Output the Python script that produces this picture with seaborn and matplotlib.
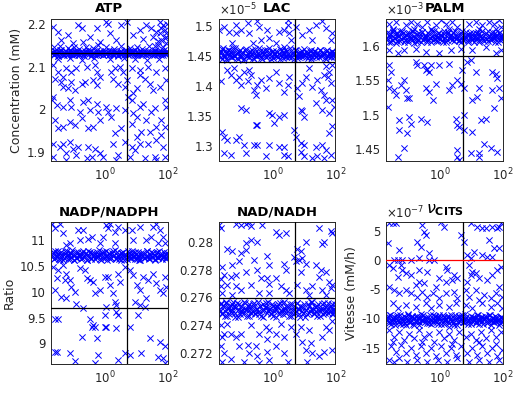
import numpy as np
import pandas as pd
import matplotlib
matplotlib.use("Agg")
import matplotlib.pyplot as plt
import seaborn as sns
from matplotlib.ticker import ScalarFormatter, FormatStrFormatter, LogLocator, NullFormatter, FixedLocator

sns.set_style("white")
plt.rcParams['font.family'] = ['DejaVu Sans']
plt.rcParams['axes.unicode_minus'] = False

# ---------------- data (x = log10 of sampled parameter) ----------------
band_logk = [-1.70, -1.65, -1.61, -1.58, -1.52, -1.49, -1.43, -1.41, -1.36, -1.30,
             -1.27, -1.21, -1.18, -1.12, -1.09, -1.03, -0.99, -0.96, -0.90, -0.85,
             -0.82, -0.76, -0.73, -0.67, -0.64, -0.58, -0.55, -0.49, -0.44, -0.41,
             -0.35, -0.31, -0.26, -0.22, -0.17, -0.13, -0.08, -0.05, 0.01, 0.04,
             0.10, 0.14, 0.17, 0.23, 0.26, 0.32, 0.35, 0.41, 0.44, 0.50,
             0.53, 0.59, 0.62, 0.68, 0.71, 0.77, 0.80, 0.86, 0.89, 0.95,
             0.98, 1.04, 1.07, 1.13, 1.16, 1.22, 1.25, 1.31, 1.34, 1.40,
             1.43, 1.49, 1.52, 1.58, 1.61, 1.67, 1.70, 1.76, 1.79, 1.85,
             1.88, 1.93, 1.96, 1.99]
band_logk2 = [-1.68, -1.63, -1.59, -1.55, -1.50, -1.46, -1.42, -1.38, -1.33, -1.28,
              -1.24, -1.19, -1.15, -1.10, -1.06, -1.01, -0.97, -0.93, -0.88, -0.83,
              -0.79, -0.74, -0.70, -0.66, -0.61, -0.57, -0.52, -0.47, -0.43, -0.38,
              -0.33, -0.29, -0.24, -0.20, -0.15, -0.11, -0.06, -0.02, 0.03, 0.07,
              0.12, 0.16, 0.20, 0.25, 0.29, 0.34, 0.38, 0.43, 0.47, 0.52,
              0.56, 0.61, 0.65, 0.70, 0.74, 0.79, 0.83, 0.88, 0.92, 0.97,
              1.01, 1.06, 1.10, 1.15, 1.19, 1.24, 1.28, 1.33, 1.37, 1.42,
              1.46, 1.51, 1.55, 1.60, 1.64, 1.69, 1.73, 1.78, 1.82, 1.87,
              1.90, 1.94, 1.97, 1.98]

atp_band = [2.131, 2.135, 2.128, 2.137, 2.133, 2.126, 2.134, 2.139, 2.130, 2.127,
            2.136, 2.132, 2.129, 2.138, 2.134, 2.127, 2.131, 2.136, 2.130, 2.133,
            2.128, 2.135, 2.132, 2.126, 2.137, 2.131, 2.134, 2.129, 2.136, 2.130,
            2.133, 2.127, 2.138, 2.131, 2.129, 2.135, 2.132, 2.128, 2.136, 2.130,
            2.134, 2.127, 2.133, 2.137, 2.129, 2.132, 2.135, 2.128, 2.131, 2.136,
            2.130, 2.133, 2.127, 2.138, 2.131, 2.134, 2.129, 2.136, 2.132, 2.128,
            2.135, 2.130, 2.133, 2.137, 2.129, 2.131, 2.136, 2.128, 2.134, 2.130,
            2.133, 2.127, 2.135, 2.131, 2.138, 2.129, 2.134, 2.132, 2.136, 2.128,
            2.133, 2.130, 2.135, 2.131]
atp_band2 = [2.134, 2.129, 2.137, 2.131, 2.126, 2.135, 2.130, 2.138, 2.128, 2.133,
             2.136, 2.127, 2.132, 2.139, 2.130, 2.134, 2.128, 2.131, 2.137, 2.129,
             2.133, 2.136, 2.127, 2.131, 2.135, 2.129, 2.138, 2.132, 2.126, 2.134,
             2.130, 2.136, 2.128, 2.133, 2.137, 2.131, 2.127, 2.135, 2.129, 2.132,
             2.138, 2.130, 2.134, 2.128, 2.136, 2.131, 2.133, 2.126, 2.135, 2.129,
             2.132, 2.137, 2.130, 2.134, 2.127, 2.136, 2.131, 2.133, 2.129, 2.138,
             2.128, 2.135, 2.131, 2.134, 2.127, 2.136, 2.130, 2.132, 2.137, 2.129,
             2.134, 2.131, 2.128, 2.136, 2.133, 2.130, 2.135, 2.127, 2.132, 2.138,
             2.129, 2.134, 2.131, 2.136]
atp_pts = [(-0.85, 2.198), (-0.74, 2.19), (-0.26, 2.19), (0.05, 2.205), (0.1, 2.2), (0.53, 2.198), (0.69, 2.205),
           (1.32, 2.198), (1.48, 2.19), (1.75, 2.205), (1.85, 2.198), (1.9, 2.186), (1.75, 2.178), (1.64, 2.182),
           (-1.48, 2.182), (-1.16, 2.174), (-1.64, 2.194), (-0.48, 2.17), (0.16, 2.178), (0.9, 2.174), (1.22, 2.166),
           (-1.38, 2.162), (-0.69, 2.158), (0.37, 2.162), (1.11, 2.186), (1.8, 2.162), (1.96, 2.17), (1.53, 2.17),
           (-1.0, 2.155), (-0.16, 2.158), (1.7, 2.15), (1.86, 2.145), (1.95, 2.155), (1.6, 2.148), (1.91, 2.168),
           (1.78, 2.19), (1.98, 2.2), (1.68, 2.16), (1.93, 2.178),
           (-1.62, 2.145), (-1.41, 2.148), (-1.17, 2.143), (-0.97, 2.146), (-0.83, 2.142), (-0.61, 2.147),
           (-0.38, 2.144), (-0.21, 2.15), (0.03, 2.145), (0.28, 2.142), (0.52, 2.148), (0.81, 2.144), (1.02, 2.146),
           (1.19, 2.142), (1.42, 2.148), (-1.5, 2.118), (-1.12, 2.12), (-0.71, 2.116), (-0.33, 2.121), (0.18, 2.117),
           (0.62, 2.12), (0.97, 2.118), (1.33, 2.115), (1.72, 2.119),
           (-1.64, 2.104), (-1.48, 2.088), (-1.22, 2.096), (-1.06, 2.088), (-0.9, 2.096), (-0.58, 2.1), (-0.32, 2.104),
           (-0.26, 2.088), (0.21, 2.088), (0.32, 2.096), (0.48, 2.1), (0.58, 2.088), (0.85, 2.096), (1.11, 2.092),
           (1.38, 2.1), (1.64, 2.088), (1.9, 2.096), (-1.59, 2.072), (-1.38, 2.064), (-1.32, 2.076), (-1.06, 2.064),
           (-0.95, 2.045), (-0.74, 2.06), (-0.63, 2.064), (-0.37, 2.068), (-0.26, 2.056), (-0.16, 2.076), (0.26, 2.072),
           (0.42, 2.06), (0.63, 2.053), (0.69, 2.068), (0.9, 2.037), (1.01, 2.049), (1.11, 2.08), (1.27, 2.072),
           (1.43, 2.06), (1.53, 2.045), (1.75, 2.053), (1.96, 2.068), (-1.16, 2.049), (-1.32, 2.053), (-1.64, 2.029),
           (-1.69, 2.021), (-1.53, 2.009), (-1.32, 2.005), (-1.11, 2.021), (-1.06, 2.005), (-0.79, 1.994), (-0.69, 2.017),
           (-0.53, 2.021), (-0.48, 1.998), (-0.26, 2.013), (-0.21, 1.994), (0.05, 2.005), (0.1, 1.994), (0.37, 2.002),
           (0.63, 1.998), (0.74, 2.029), (0.85, 2.021), (0.9, 1.99), (1.01, 1.982), (1.11, 2.005), (1.22, 2.013),
           (1.32, 1.974), (1.48, 1.994), (1.59, 2.002), (1.64, 1.958), (1.8, 1.974), (1.96, 2.005), (1.9, 2.021),
           (-1.59, 1.974), (-1.48, 1.955), (-1.32, 1.958), (-1.11, 1.97), (-0.95, 1.962), (-0.74, 1.978), (-0.53, 1.955),
           (-0.37, 1.958), (-0.16, 1.974), (0.21, 1.982), (0.32, 1.943), (0.53, 1.955), (0.85, 1.966), (1.01, 1.935),
           (1.16, 1.947), (1.43, 1.947), (1.64, 1.927), (1.8, 1.939), (1.9, 1.958), (-1.64, 1.919), (-1.43, 1.911),
           (-1.32, 1.919), (-1.22, 1.896), (-1.11, 1.923), (-1.0, 1.907), (-0.85, 1.911), (-0.53, 1.911), (-0.32, 1.907),
           (-0.16, 1.896), (0.26, 1.919), (0.42, 1.892), (0.63, 1.923), (0.85, 1.911), (0.95, 1.904), (1.11, 1.919),
           (1.38, 1.919), (1.59, 1.888), (1.85, 1.911), (-1.64, 1.888), (-1.22, 1.88), (-0.9, 1.892), (-0.58, 1.884),
           (-0.42, 1.888), (-0.05, 1.888), (0.37, 1.88), (0.79, 1.888), (1.27, 1.884), (1.64, 1.88), (1.9, 1.888)]

lac_band = [1.451, 1.458, 1.445, 1.462, 1.449, 1.455, 1.443, 1.460, 1.452, 1.447,
            1.457, 1.450, 1.463, 1.446, 1.454, 1.459, 1.448, 1.453, 1.444, 1.461,
            1.450, 1.456, 1.447, 1.452, 1.459, 1.445, 1.454, 1.449, 1.462, 1.451,
            1.446, 1.457, 1.453, 1.448, 1.460, 1.450, 1.455, 1.444, 1.458, 1.452,
            1.449, 1.456, 1.447, 1.461, 1.451, 1.454, 1.446, 1.459, 1.450, 1.453,
            1.448, 1.457, 1.452, 1.445, 1.460, 1.450, 1.455, 1.447, 1.453, 1.458,
            1.449, 1.451, 1.456, 1.446, 1.454, 1.460, 1.448, 1.452, 1.457, 1.450,
            1.455, 1.447, 1.459, 1.451, 1.453, 1.446, 1.458, 1.450, 1.454, 1.449,
            1.456, 1.452, 1.448, 1.455]
lac_band2 = [1.455, 1.448, 1.461, 1.450, 1.457, 1.444, 1.453, 1.459, 1.447, 1.452,
             1.462, 1.449, 1.454, 1.445, 1.458, 1.451, 1.456, 1.443, 1.460, 1.450,
             1.453, 1.447, 1.458, 1.452, 1.446, 1.461, 1.449, 1.455, 1.451, 1.457,
             1.444, 1.453, 1.459, 1.448, 1.454, 1.462, 1.450, 1.456, 1.446, 1.452,
             1.458, 1.449, 1.453, 1.445, 1.460, 1.451, 1.455, 1.448, 1.457, 1.450,
             1.463, 1.447, 1.454, 1.452, 1.459, 1.446, 1.451, 1.456, 1.449, 1.453,
             1.461, 1.448, 1.455, 1.450, 1.457, 1.444, 1.452, 1.458, 1.447, 1.454,
             1.451, 1.460, 1.449, 1.456, 1.453, 1.445, 1.459, 1.450, 1.455, 1.448,
             1.457, 1.451, 1.454, 1.452]
lac_pts = [(-1.69, 1.493), (-1.53, 1.498), (-1.38, 1.49), (-1.16, 1.501), (-1.16, 1.487), (-1.01, 1.493), (-0.79, 1.504),
           (-0.74, 1.487), (-0.48, 1.507), (-0.42, 1.498), (-0.37, 1.476), (-0.16, 1.493), (-0.11, 1.479), (0.21, 1.49),
           (0.37, 1.493), (0.48, 1.509), (0.48, 1.501), (0.53, 1.487), (0.58, 1.476), (0.74, 1.498), (0.95, 1.484),
           (1.16, 1.493), (1.38, 1.501), (1.59, 1.507), (1.69, 1.496), (1.9, 1.487), (1.85, 1.476), (1.27, 1.476),
           (-0.63, 1.471), (0.11, 1.471), (-1.27, 1.471), (0.37, 1.465),
           (-1.64, 1.407), (-1.43, 1.426), (-1.32, 1.418), (-1.22, 1.429), (-1.16, 1.409), (-1.06, 1.415), (-1.01, 1.401),
           (-0.9, 1.423), (-0.79, 1.407), (-0.74, 1.426), (-0.69, 1.418), (-0.58, 1.393), (-0.53, 1.384), (-0.48, 1.401),
           (-0.37, 1.409), (-0.21, 1.396), (-0.11, 1.412), (0.11, 1.423), (0.21, 1.404), (0.37, 1.39), (0.48, 1.401),
           (0.53, 1.415), (0.79, 1.396), (0.85, 1.382), (0.95, 1.404), (1.06, 1.415), (1.16, 1.429), (1.27, 1.398),
           (1.43, 1.409), (1.53, 1.393), (1.64, 1.384), (1.75, 1.415), (1.85, 1.404), (1.9, 1.376), (1.96, 1.365),
           (1.8, 1.354), (1.69, 1.376), (1.59, 1.359), (1.38, 1.371), (0.95, 1.357), (1.01, 1.348), (0.9, 1.359),
           (0.37, 1.351), (0.21, 1.348), (0.0, 1.351), (-0.11, 1.354), (0.05, 1.337), (-0.85, 1.359), (-1.01, 1.362),
           (-0.53, 1.334), (-0.48, 1.334), (-1.59, 1.323), (-1.53, 1.315), (-1.43, 1.309), (-1.16, 1.309), (-1.06, 1.315),
           (-0.9, 1.301), (-0.58, 1.301), (-0.48, 1.301), (-0.11, 1.301), (0.21, 1.298), (0.37, 1.298), (0.74, 1.315),
           (0.9, 1.304), (1.01, 1.301), (1.38, 1.298), (1.59, 1.301), (1.8, 1.321), (1.9, 1.332), (-1.53, 1.287),
           (-1.32, 1.284), (-0.85, 1.287), (-0.21, 1.282), (0.37, 1.284), (0.48, 1.282), (0.69, 1.326), (1.01, 1.282),
           (1.27, 1.279), (1.43, 1.282), (1.64, 1.279), (1.85, 1.284), (1.69, 1.293), (0.9, 1.29),
           (1.69, 1.432), (1.8, 1.423), (1.64, 1.418), (1.9, 1.434)]

palm_band = [1.612, 1.620, 1.606, 1.617, 1.609, 1.623, 1.611, 1.604, 1.618, 1.614,
             1.607, 1.621, 1.613, 1.609, 1.616, 1.605, 1.619, 1.612, 1.608, 1.622,
             1.615, 1.610, 1.606, 1.618, 1.613, 1.620, 1.608, 1.614, 1.611, 1.605,
             1.617, 1.612, 1.621, 1.609, 1.615, 1.607, 1.619, 1.613, 1.610, 1.616,
             1.606, 1.622, 1.612, 1.608, 1.618, 1.614, 1.611, 1.620, 1.607, 1.615,
             1.613, 1.609, 1.617, 1.605, 1.621, 1.612, 1.610, 1.616, 1.608, 1.619,
             1.614, 1.611, 1.606, 1.618, 1.613, 1.620, 1.609, 1.615, 1.612, 1.607,
             1.617, 1.610, 1.622, 1.614, 1.608, 1.616, 1.611, 1.619, 1.613, 1.606,
             1.618, 1.612, 1.615, 1.610]
palm_band2 = [1.609, 1.616, 1.613, 1.605, 1.620, 1.611, 1.617, 1.607, 1.614, 1.622,
              1.610, 1.618, 1.606, 1.613, 1.619, 1.608, 1.615, 1.611, 1.621, 1.604,
              1.612, 1.617, 1.609, 1.614, 1.606, 1.620, 1.612, 1.616, 1.608, 1.618,
              1.611, 1.605, 1.615, 1.621, 1.610, 1.613, 1.607, 1.619, 1.614, 1.609,
              1.617, 1.612, 1.606, 1.620, 1.611, 1.616, 1.608, 1.613, 1.622, 1.610,
              1.615, 1.607, 1.618, 1.612, 1.609, 1.614, 1.620, 1.606, 1.616, 1.611,
              1.608, 1.619, 1.613, 1.610, 1.617, 1.605, 1.615, 1.621, 1.609, 1.612,
              1.618, 1.607, 1.614, 1.610, 1.620, 1.613, 1.606, 1.616, 1.611, 1.619,
              1.608, 1.614, 1.612, 1.617]
palm_pts = [(-1.62, 1.632), (-1.41, 1.635), (-1.09, 1.63), (-0.93, 1.635), (-0.72, 1.632), (-0.56, 1.628), (-0.4, 1.635),
            (-0.14, 1.63), (0.02, 1.637), (0.18, 1.632), (0.39, 1.635), (0.55, 1.628), (0.92, 1.632), (1.13, 1.635),
            (1.34, 1.63), (1.56, 1.635), (1.71, 1.632), (1.87, 1.637), (1.93, 1.628), (-1.51, 1.625), (-0.83, 1.625),
            (-0.3, 1.625), (0.29, 1.625), (1.24, 1.625), (1.77, 1.625),
            (-1.62, 1.594), (-1.35, 1.589), (-1.14, 1.594), (-0.77, 1.596), (-0.46, 1.591), (-0.03, 1.589), (0.34, 1.594),
            (0.66, 1.596), (1.03, 1.594), (1.45, 1.599), (1.77, 1.589), (1.93, 1.594),
            (-1.62, 1.572), (-1.57, 1.562), (-1.64, 1.55), (-1.62, 1.538), (-1.46, 1.536), (-1.41, 1.528), (-1.25, 1.543),
            (-1.14, 1.55), (-1.09, 1.536), (-1.04, 1.524), (-0.98, 1.524), (-0.77, 1.577), (-0.72, 1.572), (-0.51, 1.572),
            (-0.46, 1.565), (-0.4, 1.567), (-0.35, 1.562), (-0.3, 1.572), (-0.46, 1.538), (-0.35, 1.533), (-0.24, 1.521),
            (-0.14, 1.545), (-0.03, 1.572), (0.29, 1.574), (0.29, 1.536), (0.39, 1.543), (0.55, 1.55), (0.71, 1.565),
            (0.66, 1.545), (0.76, 1.538), (0.87, 1.577), (0.97, 1.579), (1.13, 1.562), (1.03, 1.521), (1.18, 1.526),
            (1.24, 1.538), (1.66, 1.562), (1.77, 1.559), (1.82, 1.553), (1.87, 1.538), (1.93, 1.524), (1.66, 1.536),
            (1.71, 1.509), (-1.67, 1.511), (-1.3, 1.492), (-1.3, 1.478), (-1.04, 1.473), (-0.98, 1.497), (-0.93, 1.487),
            (-0.61, 1.494), (-0.4, 1.489), (0.5, 1.494), (0.55, 1.485), (0.6, 1.482), (0.76, 1.499), (0.76, 1.478),
            (1.03, 1.475), (1.29, 1.492), (1.45, 1.494), (-1.35, 1.439), (-1.14, 1.451), (0.55, 1.448), (0.55, 1.439),
            (0.6, 1.434), (0.97, 1.444), (1.24, 1.444), (1.4, 1.458), (1.61, 1.451), (1.82, 1.446), (1.24, 1.439)]

nadp_band = [10.70, 10.76, 10.63, 10.79, 10.67, 10.73, 10.61, 10.75, 10.69, 10.65,
             10.78, 10.71, 10.64, 10.74, 10.68, 10.80, 10.62, 10.72, 10.66, 10.77,
             10.70, 10.63, 10.75, 10.68, 10.73, 10.61, 10.79, 10.69, 10.66, 10.74,
             10.71, 10.64, 10.77, 10.67, 10.72, 10.62, 10.76, 10.70, 10.65, 10.78,
             10.68, 10.73, 10.63, 10.75, 10.69, 10.80, 10.66, 10.71, 10.64, 10.74,
             10.70, 10.77, 10.62, 10.72, 10.67, 10.75, 10.65, 10.79, 10.69, 10.63,
             10.73, 10.68, 10.76, 10.61, 10.71, 10.74, 10.66, 10.70, 10.78, 10.64,
             10.72, 10.67, 10.75, 10.62, 10.69, 10.77, 10.65, 10.73, 10.70, 10.68,
             10.76, 10.63, 10.71, 10.74]
nadp_band2 = [10.68, 10.74, 10.65, 10.72, 10.78, 10.63, 10.70, 10.76, 10.62, 10.73,
              10.67, 10.79, 10.69, 10.64, 10.75, 10.71, 10.61, 10.77, 10.66, 10.73,
              10.70, 10.65, 10.78, 10.68, 10.74, 10.62, 10.72, 10.76, 10.64, 10.69,
              10.75, 10.67, 10.71, 10.80, 10.63, 10.73, 10.66, 10.77, 10.70, 10.62,
              10.74, 10.68, 10.65, 10.79, 10.71, 10.64, 10.76, 10.69, 10.72, 10.61,
              10.75, 10.67, 10.73, 10.63, 10.78, 10.70, 10.66, 10.74, 10.68, 10.77,
              10.64, 10.71, 10.62, 10.75, 10.69, 10.73, 10.66, 10.79, 10.70, 10.65,
              10.76, 10.68, 10.72, 10.63, 10.74, 10.67, 10.78, 10.71, 10.64, 10.70,
              10.73, 10.66, 10.75, 10.69]
nadp_pts = [(-1.69, 11.32), (-1.43, 11.32), (-1.59, 11.23), (-1.32, 11.13), (-1.11, 10.94), (-0.85, 11.19), (-0.69, 11.19),
            (-0.53, 11.03), (-0.42, 11.06), (-0.16, 10.94), (-0.05, 11.06), (0.05, 11.29), (0.11, 11.23), (0.16, 11.32),
            (0.32, 11.16), (0.32, 10.94), (0.42, 11.26), (0.63, 11.19), (0.85, 11.19), (0.9, 11.0), (1.11, 11.26),
            (1.32, 11.0), (1.53, 11.26), (1.64, 11.32), (1.75, 11.19), (1.85, 11.06), (1.9, 10.94), (1.69, 10.94),
            (1.48, 11.06), (-0.79, 11.0), (-1.22, 10.9),
            (-1.64, 10.48), (-1.48, 10.42), (-1.32, 10.52), (-1.22, 10.35), (-1.11, 10.23), (-1.27, 10.23), (-1.53, 10.26),
            (-1.59, 10.03), (-1.38, 9.9), (-1.22, 9.87), (-1.06, 10.1), (-0.95, 10.0), (-0.79, 10.45), (-0.63, 10.42),
            (-0.58, 10.26), (-0.48, 10.23), (-0.37, 10.19), (-0.32, 9.97), (-0.16, 10.03), (0.0, 10.29), (0.11, 10.29),
            (0.16, 10.13), (0.26, 9.97), (0.32, 9.81), (0.42, 10.35), (0.48, 10.19), (0.63, 10.48), (0.79, 10.42),
            (0.9, 10.32), (1.01, 10.13), (0.95, 9.81), (1.11, 10.03), (1.22, 10.29), (1.38, 10.23), (1.32, 9.87),
            (1.53, 10.35), (1.64, 10.16), (1.75, 10.03), (1.85, 9.97), (1.96, 10.1), (1.9, 10.29), (-0.9, 9.77),
            (-0.69, 9.68), (0.05, 9.71), (0.37, 9.74), (1.11, 9.74), (1.27, 9.71),
            (-1.59, 9.48), (-1.48, 9.48), (-0.74, 9.13), (-0.48, 9.48), (-0.42, 9.32), (-0.37, 9.35), (-0.32, 9.32),
            (-0.26, 9.1), (0.0, 9.32), (0.05, 9.32), (0.0, 9.55), (0.37, 9.29), (0.37, 9.61), (0.42, 9.55), (0.79, 9.32),
            (1.06, 9.55), (1.43, 9.1), (1.75, 9.03), (1.9, 8.94), (-1.59, 8.84), (-1.53, 8.84), (-1.11, 8.81),
            (-0.95, 8.65), (-0.32, 8.61), (-0.21, 8.77), (0.42, 8.68), (0.63, 8.81), (0.79, 8.77), (1.16, 8.81),
            (1.69, 8.74), (1.85, 8.71), (1.9, 8.61)]

nad_band = [0.2752, 0.2756, 0.2748, 0.2754, 0.2750, 0.2757, 0.2747, 0.2753, 0.2751, 0.2755,
            0.2749, 0.2753, 0.2746, 0.2756, 0.2751, 0.2748, 0.2754, 0.2750, 0.2757, 0.2752,
            0.2747, 0.2755, 0.2751, 0.2749, 0.2753, 0.2756, 0.2748, 0.2752, 0.2750, 0.2754,
            0.2747, 0.2755, 0.2751, 0.2753, 0.2749, 0.2757, 0.2752, 0.2748, 0.2754, 0.2750,
            0.2746, 0.2753, 0.2755, 0.2749, 0.2751, 0.2756, 0.2748, 0.2752, 0.2754, 0.2750,
            0.2753, 0.2747, 0.2755, 0.2751, 0.2749, 0.2756, 0.2752, 0.2748, 0.2754, 0.2750,
            0.2753, 0.2746, 0.2751, 0.2755, 0.2749, 0.2752, 0.2757, 0.2748, 0.2753, 0.2750,
            0.2754, 0.2751, 0.2747, 0.2755, 0.2752, 0.2749, 0.2753, 0.2756, 0.2750, 0.2754,
            0.2748, 0.2752, 0.2751, 0.2755]
nad_band2 = [0.2750, 0.2755, 0.2749, 0.2753, 0.2747, 0.2756, 0.2752, 0.2748, 0.2754, 0.2751,
             0.2757, 0.2749, 0.2753, 0.2746, 0.2755, 0.2750, 0.2752, 0.2748, 0.2756, 0.2751,
             0.2754, 0.2747, 0.2753, 0.2750, 0.2755, 0.2749, 0.2752, 0.2757, 0.2748, 0.2754,
             0.2751, 0.2746, 0.2753, 0.2756, 0.2750, 0.2752, 0.2749, 0.2755, 0.2747, 0.2753,
             0.2751, 0.2754, 0.2748, 0.2756, 0.2750, 0.2752, 0.2757, 0.2749, 0.2753, 0.2747,
             0.2755, 0.2751, 0.2748, 0.2754, 0.2750, 0.2756, 0.2752, 0.2746, 0.2753, 0.2749,
             0.2755, 0.2751, 0.2748, 0.2754, 0.2750, 0.2757, 0.2752, 0.2749, 0.2753, 0.2747,
             0.2755, 0.2750, 0.2752, 0.2748, 0.2756, 0.2751, 0.2754, 0.2749, 0.2753, 0.2750,
             0.2755, 0.2748, 0.2752, 0.2751]
nad_pts = [(-1.69, 0.2812), (-1.64, 0.2810), (-1.16, 0.2813), (-1.01, 0.2812), (-0.85, 0.2813), (-0.74, 0.2814),
           (-0.69, 0.2811), (-0.32, 0.2812), (0.11, 0.2807), (0.21, 0.2805), (0.42, 0.2806), (1.48, 0.2810),
           (1.85, 0.2808), (1.9, 0.2806), (1.64, 0.2800), (1.59, 0.2798), (1.06, 0.2800), (0.79, 0.2795), (0.9, 0.2793),
           (-0.48, 0.2800), (-0.85, 0.2799), (-0.69, 0.2801), (-1.43, 0.2795), (-1.27, 0.2793), (-1.01, 0.2792),
           (-0.85, 0.2794), (-1.06, 0.2786), (-1.27, 0.2783), (-0.58, 0.2787), (-0.16, 0.2790), (-0.11, 0.2783),
           (-1.59, 0.2782), (-1.53, 0.2776), (-1.32, 0.2775), (-1.64, 0.2773), (-1.16, 0.2776), (-0.85, 0.2778),
           (-0.48, 0.2780), (-0.37, 0.2774), (-0.16, 0.2774), (0.11, 0.2774), (0.37, 0.2784), (0.42, 0.2780),
           (0.69, 0.2789), (0.74, 0.2786), (0.85, 0.2787), (0.95, 0.2788), (1.06, 0.2784), (0.9, 0.2778), (1.38, 0.2783),
           (1.53, 0.2780), (1.48, 0.2775), (1.69, 0.2778), (1.8, 0.2771), (1.59, 0.2765), (1.85, 0.2767), (-1.64, 0.2768),
           (-1.43, 0.2769), (-1.16, 0.2768), (-1.01, 0.2765), (-0.69, 0.2769), (-0.11, 0.2770), (0.26, 0.2768),
           (0.42, 0.2765), (0.79, 0.2769), (1.06, 0.2765), (1.27, 0.2768), (1.9, 0.2769), (-1.59, 0.2763),
           (-1.27, 0.2762), (-0.42, 0.2763), (-0.11, 0.2763), (0.53, 0.2763), (1.16, 0.2762), (1.69, 0.2762),
           (-1.64, 0.2740), (-1.53, 0.2734), (-1.32, 0.2734), (-1.16, 0.2732), (-1.01, 0.2734), (-1.59, 0.2732),
           (-1.43, 0.2741), (-0.69, 0.2740), (-0.42, 0.2734), (-0.21, 0.2739), (-0.11, 0.2737), (0.11, 0.2734),
           (0.26, 0.2741), (0.37, 0.2732), (0.58, 0.2739), (0.74, 0.2734), (0.9, 0.2739), (1.16, 0.2737), (1.59, 0.2732),
           (1.69, 0.2739), (1.9, 0.2743), (1.8, 0.2737), (-1.64, 0.2725), (-1.53, 0.2720), (-1.32, 0.2716),
           (-1.06, 0.2725), (-0.79, 0.2726), (-0.74, 0.2720), (-0.53, 0.2725), (-0.48, 0.2718), (-0.16, 0.2730),
           (-0.16, 0.2721), (-0.11, 0.2715), (0.11, 0.2725), (0.37, 0.2720), (0.48, 0.2714), (0.95, 0.2728),
           (1.06, 0.2722), (1.22, 0.2727), (1.27, 0.2720), (1.48, 0.2718), (1.64, 0.2721), (1.9, 0.2722),
           (-1.59, 0.2714), (-0.9, 0.2714), (-0.42, 0.2713), (1.11, 0.2714)]

cits_band = [-10.2, -9.6, -10.8, -9.4, -10.5, -9.9, -11.1, -10.0, -9.7, -10.6,
             -9.5, -10.3, -11.0, -9.8, -10.4, -9.3, -10.7, -10.1, -9.6, -10.9,
             -10.0, -9.8, -10.5, -11.2, -9.7, -10.3, -9.4, -10.6, -10.1, -9.9,
             -10.8, -9.5, -10.2, -10.7, -9.6, -10.4, -11.0, -9.8, -10.0, -10.5,
             -9.4, -10.9, -10.2, -9.7, -10.6, -10.1, -9.5, -10.8, -9.9, -10.3,
             -11.1, -9.6, -10.4, -10.0, -9.8, -10.7, -9.3, -10.5, -10.2, -9.9,
             -10.9, -9.7, -10.3, -10.6, -9.5, -10.1, -11.0, -9.8, -10.4, -10.0,
             -9.6, -10.8, -10.2, -9.4, -10.5, -9.9, -10.7, -10.1, -9.7, -10.3,
             -11.2, -9.8, -10.6, -10.0]
cits_band2 = [-9.8, -10.5, -9.5, -10.9, -10.1, -9.7, -10.6, -9.4, -10.3, -11.0,
              -9.9, -10.4, -9.6, -10.8, -10.0, -9.5, -10.7, -10.2, -9.8, -11.1,
              -10.4, -9.6, -10.0, -10.7, -9.3, -10.5, -10.1, -9.9, -10.8, -9.7,
              -10.3, -11.0, -9.5, -10.2, -9.8, -10.6, -10.0, -9.4, -10.9, -10.3,
              -9.7, -10.5, -10.1, -9.6, -10.8, -9.9, -10.4, -11.2, -9.5, -10.0,
              -10.6, -9.8, -10.3, -9.4, -10.7, -10.1, -9.7, -10.9, -10.2, -9.6,
              -10.5, -10.0, -9.9, -10.8, -9.5, -10.4, -10.2, -9.7, -11.0, -10.1,
              -9.8, -10.6, -9.4, -10.3, -10.0, -10.7, -9.6, -10.5, -9.9, -10.2,
              -10.8, -9.7, -10.4, -10.1]
cits_pts = [(-1.62, 6.25), (-1.51, 6.25), (-1.41, 6.25), (-1.67, 2.83), (-1.3, 1.69), (-0.56, 5.97), (-0.51, 4.83),
            (-0.46, 4.26), (-0.72, 3.12), (-0.61, 2.26), (-0.35, 1.12), (0.02, 6.54), (0.13, 5.68), (0.66, 4.26),
            (0.76, 3.12), (0.97, 6.25), (1.18, 5.68), (1.34, 5.4), (1.45, 5.4), (1.66, 5.68), (1.87, 5.68), (1.93, 6.25),
            (1.82, 5.4), (1.56, 3.4), (1.71, 1.98), (1.08, 1.41), (0.97, 0.28), (0.87, 0.85), (1.34, 0.85), (1.5, 0.56),
            (1.66, 0.56), (1.87, 1.98), (-1.46, 0.0), (-1.35, 0.0), (-1.2, 0.0), (-0.93, 0.0), (-0.67, 0.28), (-0.35, 0.0),
            (-0.19, 0.0),
            (-1.62, -0.87), (-1.51, -1.44), (-1.25, -0.87), (-1.2, -1.72), (-1.35, -2.86), (-1.09, -2.29), (-0.93, -2.58),
            (-0.67, -1.72), (-0.4, -2.0), (-0.67, -3.72), (-0.77, -4.29), (-0.51, -4.01), (-0.14, -4.58), (-0.03, -3.15),
            (0.18, -1.15), (0.23, -1.72), (0.44, -2.58), (0.55, -3.15), (0.39, -3.43), (0.18, -3.72), (0.92, -0.87),
            (0.97, -2.58), (1.03, -2.0), (1.13, -2.29), (0.87, -3.72), (1.24, -3.15), (1.5, -3.43), (1.66, -2.58),
            (1.82, -1.72), (1.93, -1.15), (1.87, -4.58), (1.77, -5.72), (-1.62, -4.58), (-1.46, -5.15), (-1.3, -5.72),
            (-1.09, -5.15), (-0.93, -5.72), (-0.72, -6.29), (-0.56, -5.43), (-0.4, -6.29), (-0.24, -5.72), (-0.03, -6.57),
            (0.18, -5.72), (0.44, -5.43), (0.55, -6.57), (0.81, -5.15), (0.92, -6.29), (1.13, -5.15), (1.24, -6.86),
            (1.4, -6.0), (1.61, -6.57), (1.98, -6.29), (-1.51, -7.43), (-1.35, -8.29), (-1.09, -7.72), (-0.77, -8.0),
            (-0.46, -7.43), (-0.3, -8.29), (-0.03, -7.72), (0.29, -8.0), (0.5, -7.43), (0.81, -7.72), (1.03, -8.29),
            (1.34, -7.43), (1.61, -8.0), (1.82, -7.43), (1.98, -8.29),
            (-1.62, -12.0), (-1.46, -13.1), (-1.3, -12.3), (-1.14, -13.7), (-0.98, -12.6), (-0.82, -13.4), (-0.67, -12.0),
            (-0.51, -13.1), (-0.35, -12.6), (-0.19, -14.0), (-0.03, -12.3), (0.13, -13.4), (0.29, -12.6), (0.44, -13.7),
            (0.6, -12.3), (0.81, -13.1), (0.97, -12.6), (1.13, -13.7), (1.29, -12.3), (1.45, -13.4), (1.61, -12.0),
            (1.77, -13.1), (1.93, -12.3), (-1.57, -14.8), (-1.41, -15.7), (-1.25, -14.6), (-1.09, -16.0), (-0.93, -15.1),
            (-0.77, -16.3), (-0.61, -14.8), (-0.46, -16.0), (-0.3, -15.1), (-0.14, -16.5), (0.02, -14.8), (0.18, -16.0),
            (0.34, -15.1), (0.5, -16.3), (0.66, -14.8), (0.87, -16.0), (1.03, -15.1), (1.18, -16.3), (1.34, -14.8),
            (1.5, -16.0), (1.66, -15.1), (1.82, -16.5), (1.98, -15.4), (-1.62, -17.1), (-1.46, -17.4), (-1.3, -16.8),
            (-1.04, -17.4), (-0.72, -17.1), (-0.4, -17.4), (-0.08, -17.1), (0.23, -17.4), (0.55, -16.8), (0.92, -17.4),
            (1.24, -17.1), (1.56, -17.4), (1.87, -17.1), (-1.51, -14.0), (-0.56, -14.0), (0.39, -14.3), (1.24, -14.0),
            (1.77, -14.3), (-1.09, -11.2), (0.29, -11.4), (1.61, -11.2)]

titles = ['ATP', 'LAC', 'PALM', 'NADP/NADPH', 'NAD/NADH', r'$\nu_{\mathbf{CITS}}$']
title_sizes = [9.5, 9.5, 9.5, 9.5, 9.5, 11.5]
ylabels = ['Concentration (mM)', '', '', 'Ratio', '', 'Vitesse (mM/h)']
bands = [atp_band, lac_band, palm_band, nadp_band, nad_band, cits_band]
bands2 = [atp_band2, lac_band2, palm_band2, nadp_band2, nad_band2, cits_band2]
points = [atp_pts, lac_pts, palm_pts, nadp_pts, nad_pts, cits_pts]
orders = [0, -5, -3, 0, 0, -7]
ylims = [(1.878, 2.212), (1.2745, 1.511), (1.4326, 1.639), (8.6, 11.35), (0.27123, 0.28141), (-17.8, 6.49)]
yticks = [[1.9, 2.0, 2.1, 2.2], [1.3, 1.35, 1.4, 1.45, 1.5], [1.45, 1.5, 1.55, 1.6],
          [9, 9.5, 10, 10.5, 11], [0.272, 0.274, 0.276, 0.278, 0.28], [-15, -10, -5, 0, 5]]
hlines = [2.131, 1.44, 1.585, 9.69, 0.27596, None]
red_lines = [None, None, None, None, None, 0.0]
vline_logk = 0.72
xlim_logk = (-1.71, 2.0)


class FixedOrder(ScalarFormatter):
    def __init__(self, order):
        super().__init__(useOffset=False, useMathText=True)
        self._fixed = order

    def _set_order_of_magnitude(self):
        self.orderOfMagnitude = self._fixed

    def _set_format(self):
        self.format = '%g'


fig, axes = plt.subplots(2, 3, figsize=(5.13, 3.94), dpi=100)
fig.subplots_adjust(left=51 / 513, right=503 / 513, top=1 - 19 / 394, bottom=1 - 364 / 394,
                    wspace=51 / 117, hspace=61 / 142)

spine_col = '#262626'
for i, ax in enumerate(axes.flat):
    scale = 10.0 ** orders[i]
    pts = points[i]
    logk = list(band_logk) + list(band_logk2) + [p[0] for p in pts]
    vals = list(bands[i]) + list(bands2[i]) + [p[1] for p in pts]
    df = pd.DataFrame({'k': 10.0 ** np.asarray(logk), 'v': np.asarray(vals) * scale})
    sns.scatterplot(data=df, x='k', y='v', marker='x', color='#0000ff', s=20,
                    linewidth=0.7, ax=ax, legend=False, zorder=2)
    ax.set_xscale('log')
    ax.set_xlim(10 ** xlim_logk[0], 10 ** xlim_logk[1])
    ax.set_ylim(ylims[i][0] * scale, ylims[i][1] * scale)
    ax.yaxis.set_major_locator(FixedLocator([t * scale for t in yticks[i]]))
    if orders[i] != 0:
        ax.yaxis.set_major_formatter(FixedOrder(orders[i]))
    else:
        ax.yaxis.set_major_formatter(FormatStrFormatter('%g'))
    ax.xaxis.set_major_locator(FixedLocator([1.0, 100.0]))
    ax.xaxis.set_minor_locator(LogLocator(base=10, subs=np.arange(1, 10), numticks=20))
    ax.xaxis.set_minor_formatter(NullFormatter())
    ax.axvline(10 ** vline_logk, color='black', lw=0.9, zorder=3)
    if hlines[i] is not None:
        ax.axhline(hlines[i] * scale, color='black', lw=0.9, zorder=3)
    if red_lines[i] is not None:
        ax.axhline(red_lines[i] * scale, color='red', lw=0.9, zorder=3)
    ax.set_xlabel('')
    ax.set_ylabel(ylabels[i], fontsize=9, color='#262626', labelpad=3)
    ax.text(0.5, 1.025, titles[i], transform=ax.transAxes, ha='center', va='bottom',
            fontsize=title_sizes[i], fontweight='bold', color='black')
    ax.tick_params(axis='both', which='major', direction='in', length=3, width=0.6,
                   labelsize=8.5, labelcolor='#262626', color=spine_col, pad=4)
    ax.tick_params(axis='x', which='minor', direction='in', length=1.5, width=0.5, color=spine_col)
    ax.tick_params(axis='y', which='minor', left=False)
    ax.yaxis.get_offset_text().set_fontsize(8.5)
    ax.yaxis.get_offset_text().set_color('#262626')
    for sp in ax.spines.values():
        sp.set_visible(True)
        sp.set_color(spine_col)
        sp.set_linewidth(0.7)

fig.savefig('out.png', dpi=100)
